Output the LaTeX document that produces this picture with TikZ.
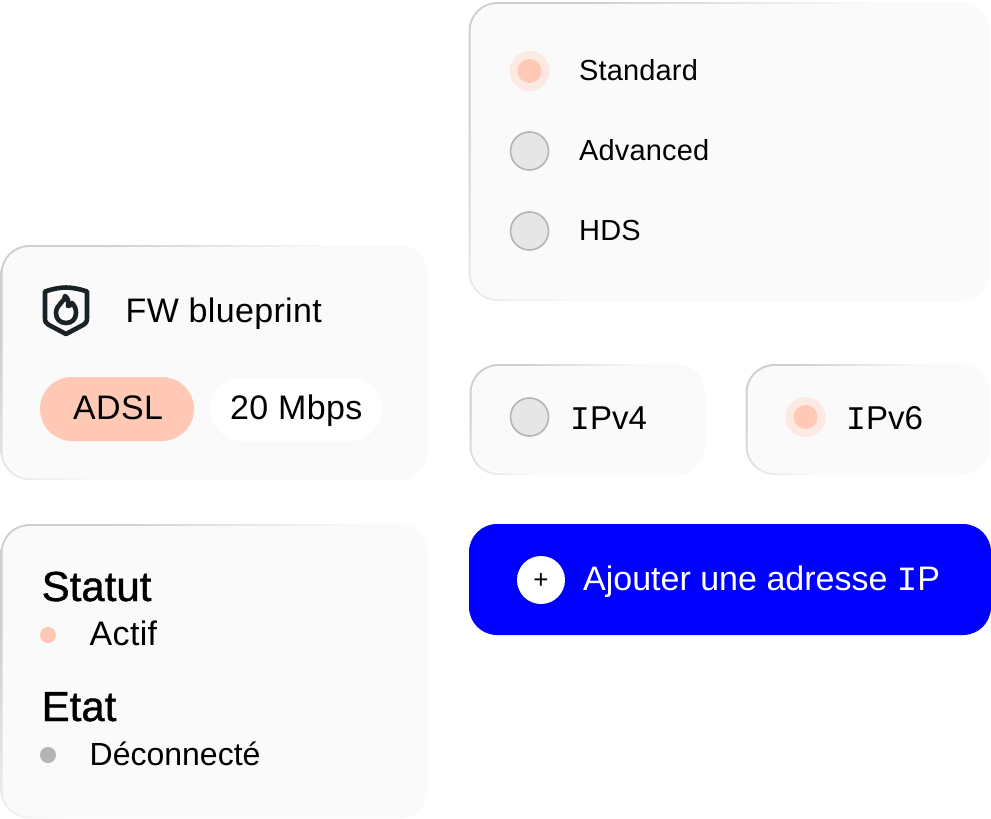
\documentclass[tikz,border=0pt]{standalone}
\usepackage{fontspec}
\setmainfont{Liberation Sans}
\newfontfamily\widefont[LetterSpace=1]{Liberation Sans}
\newfontfamily\formfont[LetterSpace=0.5]{Liberation Sans}
\newfontfamily\headfont[FakeBold=1]{Liberation Sans}
\newfontfamily\slabfont{Liberation Mono}
\definecolor{cardfill}{HTML}{FAFAFA}
\definecolor{cardline}{HTML}{CFCFCF}
\definecolor{peach}{HTML}{FFC9B5}
\definecolor{peachhalo}{HTML}{FCE9E2}
\definecolor{radiofill}{HTML}{E6E6E6}
\definecolor{radioline}{HTML}{B4B4B4}
\definecolor{inkdark}{HTML}{1A2226}
\definecolor{btnblue}{HTML}{0000FF}
\tikzset{
	cardedge/.style = {left color=cardline, right color=cardfill, middle color=cardfill, shading angle=45},
	label/.style = {anchor=base west, inner sep=0pt, text=black, font=\widefont\fontsize{34}{40}\selectfont},
	iplabel/.style = {label, font=\fontsize{33}{40}\selectfont},
	statelabel/.style = {label, font=\fontsize{32}{38}\selectfont},
	formlabel/.style = {label, font=\formfont\fontsize{29}{34}\selectfont},
	headlabel/.style = {label, font=\headfont\fontsize{42}{48}\selectfont},
	offradio/.style = {draw=radioline, line width=1.6pt, fill=radiofill},
	pill/.style = {rounded corners=32pt},
}
\begin{document}
\begin{tikzpicture}[x=1pt,y=-1pt]
	\useasboundingbox (0,0) rectangle (991,819);
	%
	\foreach \xa/\ya/\xb/\yb/\rad in {0.5/245/428/480/29, 468.5/2/990/301/29, 469.5/364/705/475/29, 745.5/364/990/475/29, 0.5/524/428/818.5/29}{
		\shade[cardedge,rounded corners=\rad pt] (\xa,\ya) rectangle (\xb,\yb);
		\fill[cardfill,rounded corners=\rad pt-2pt] (\xa+2,\ya+2) rectangle (\xb-2,\yb-2);
	}
	%
	\draw[inkdark, line width=4.6pt, line join=round] (66,287.5) .. controls (60,287.5) and (52,289) .. (45,291.5) -- (45,318) .. controls (45,322) and (46,323) .. (49,325) -- (66,334) -- (83,325) .. controls (86,323) and (87,322) .. (87,318) -- (87,291.5) .. controls (80,289) and (72,287.5) .. (66,287.5) -- cycle;
	\draw[inkdark, line width=4.6pt, line join=round] (65,296) .. controls (66,301) and (56,304) .. (56,313) .. controls (56,319) and (60,323) .. (66,323) .. controls (72,323) and (76,319) .. (76,313) .. controls (76,309) and (75,306) .. (72,303) .. controls (71,305) and (70,306) .. (68,306) .. controls (69,302) and (68,298) .. (65,296) -- cycle;
	\node[label] (blueprint) at (125.5,322) {FW blueprint};
	%
	\fill[peach,pill] (40,377) rectangle (194,441);
	\fill[white,pill] (210,377) rectangle (382,441);
	\node[label] (adsl) at (73,419) {ADSL};
	\node[label] (mbps) at (230,419) {20 Mbps};
	%
	\fill[peachhalo] (529.5,71) circle (20);
	\fill[peach] (529.5,71) circle (12);
	\draw[offradio] (529.5,151) circle (19);
	\draw[offradio] (529.5,231) circle (19);
	\node[formlabel] (standard) at (579,80) {Standard};
	\node[formlabel] (advanced) at (579,160) {Advanced};
	\node[formlabel] (hds) at (579,240) {HDS};
	%
	\draw[offradio] (529.5,417) circle (19);
	\node[iplabel] (ipfour) at (570,429) {{\slabfont I}Pv4};
	\fill[peachhalo] (805.5,417) circle (20);
	\fill[peach] (805.5,417) circle (12);
	\node[iplabel] (ipsix) at (846,429) {{\slabfont I}Pv6};
	%
	\fill[btnblue,rounded corners=28pt] (469,524) rectangle (991,635);
	\fill[white] (541,580) circle (24);
	\node[anchor=center, inner sep=0pt, text=black, font=\fontsize{26}{28}\selectfont] (plus) at (541,581) {+};
	\node[iplabel, font=\fontsize{34}{40}\selectfont, text=white] (addip) at (583,590) {Ajouter une adresse {\slabfont I}P};
	%
	\node[headlabel] (statut) at (41.5,601) {Statut};
	\fill[peach] (48,635) circle (8);
	\node[label] (actif) at (89.5,645) {Actif};
	\node[headlabel] (etat) at (41.5,721) {Etat};
	\fill[radioline] (48,755) circle (8);
	\node[statelabel] (deco) at (89.5,765) {Déconnecté};
	%
\end{tikzpicture}
\end{document}
